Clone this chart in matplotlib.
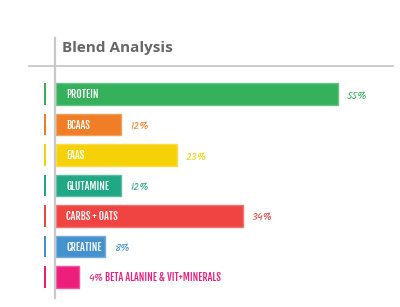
import matplotlib
matplotlib.use('Agg')
import matplotlib.pyplot as plt
from matplotlib.colors import to_rgb

# data
names = ['Protein', 'BCAAs', 'EAAs', 'Glutamine', 'Carbs + Oats', 'Creatine', '']
shares = [55, 12, 23, 12, 34, 8, 4]
bar_len = [55, 12.7, 23.6, 12.7, 36.5, 9.6, 4.5]
colors = ['#35b05b', '#ef7e26', '#f6d108', '#20a884', '#ef4442', '#4591d0', '#ee1e7d']
extra = ['', '', '', '', '', '', 'Beta alanine & vit+minerals']

W, H = 400, 307
fig = plt.figure(figsize=(W / 100, H / 100), dpi=100)
ax = fig.add_axes([0, 0, 1, 1])

# pixel mapping: x=0 at 56px, 55 units -> 282px; row i centred at 94 + 30.5*i px
ppu = 282 / 55
x0 = 56
ax.set_xlim(-x0 / ppu, (W - x0) / ppu)
ax.set_ylim((H - 94) / 30.5, -94 / 30.5)
ax.axis('off')

label_font = ['Fjalla One', 'DejaVu Sans']
value_font = ['Kalam', 'DejaVu Sans']


def lighter(c, f=0.25):
    r, g, b = to_rgb(c)
    return (r + (1 - r) * f, g + (1 - g) * f, b + (1 - b) * f)


rows = list(range(len(names)))
ax.barh(rows, bar_len, height=0.72, left=0, color=colors,
        edgecolor=[lighter(c) for c in colors], linewidth=1, zorder=2)
# small marker ticks at the left
ax.barh(rows, [0.38] * len(rows), height=0.72, left=-2.3, color=colors, zorder=2)

for i in rows:
    if names[i]:
        ax.text(10 / ppu, i + 0.03, names[i].upper(), color='white', fontsize=7.3,
                family=label_font, va='center', ha='left', zorder=3)
    ax.text(bar_len[i] + 9 / ppu, i + 0.05, f'{shares[i]}%', color=colors[i],
            fontsize=7.5, style='italic', family=value_font,
            va='center', ha='left', zorder=3)
    if extra[i]:
        ax.annotate(extra[i].upper(), xy=(bar_len[i] + 9 / ppu, i + 0.03),
                    xytext=(12, 0), textcoords='offset points', color=colors[i],
                    fontsize=7.3, family=label_font,
                    va='center', ha='left', zorder=3)

# frame lines and heading
fig.add_artist(plt.Line2D([54.5 / W, 54.5 / W], [1 - 38 / H, 1 - 298 / H],
                          color='#c8c8c8', lw=1.6))
fig.add_artist(plt.Line2D([29 / W, 393 / W], [1 - 66 / H, 1 - 66 / H],
                          color='#c8c8c8', lw=1.3))
fig.text(62 / W, 1 - 48 / H, 'Blend Analysis', color='#666666', fontsize=11,
         fontweight='bold', family=['Open Sans', 'DejaVu Sans'],
         va='center', ha='left')

fig.savefig('out.png', dpi=100, facecolor='white')
